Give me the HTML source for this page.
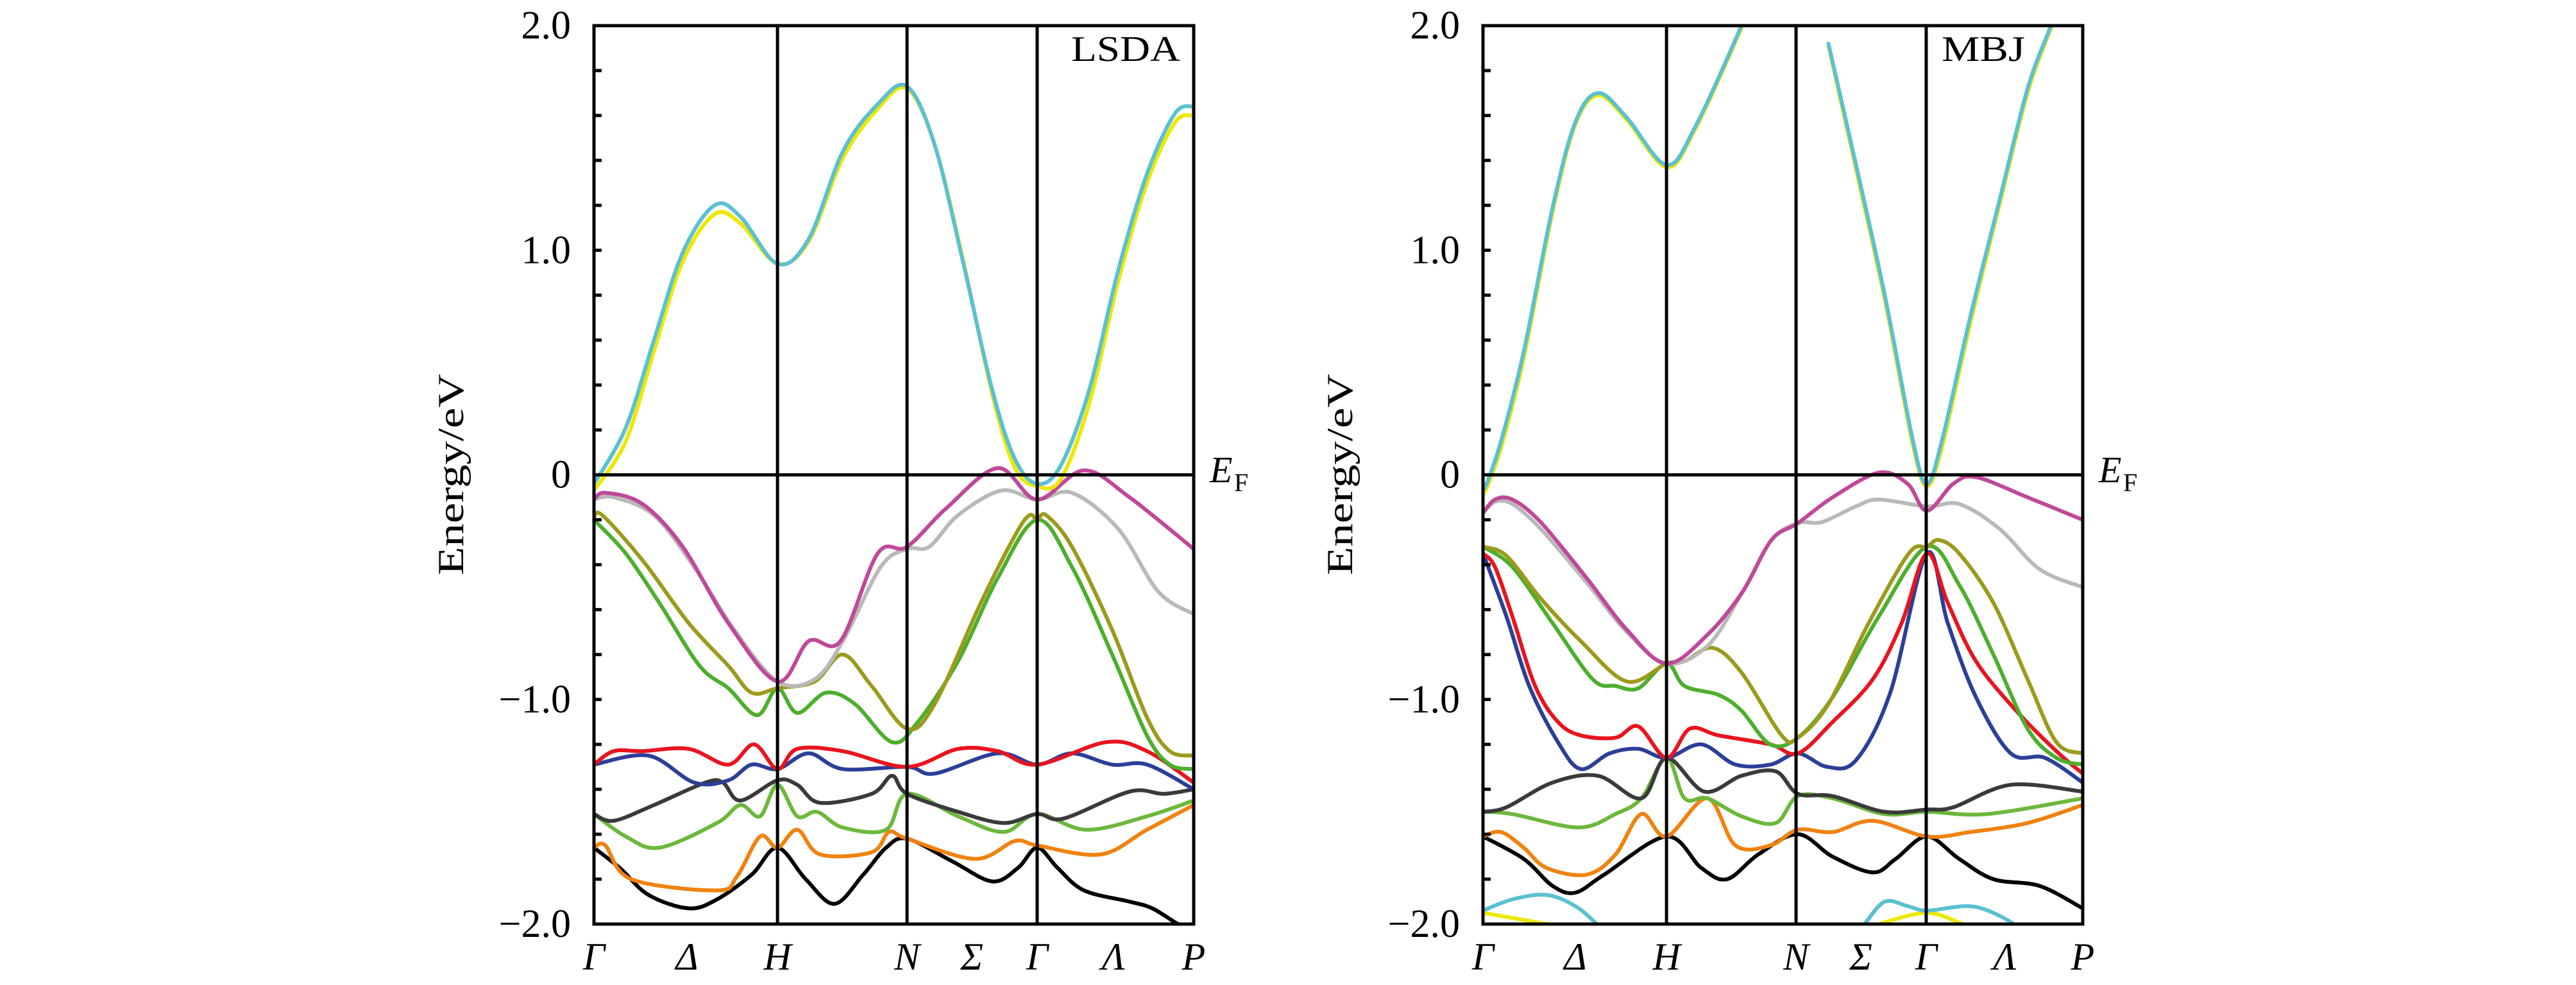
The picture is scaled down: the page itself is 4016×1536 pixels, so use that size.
<!DOCTYPE html>
<html><head><meta charset="utf-8">
<style>
html,body{margin:0;padding:0;background:#fff;}
svg{display:block;}
text{font-family:"Liberation Serif","DejaVu Serif",serif;fill:#000;}
</style></head>
<body>
<svg id="chart" width="4016" height="1536" viewBox="0 0 4016 1536" xmlns="http://www.w3.org/2000/svg"></svg>
<script>
// ---------- data (k in % of path, E in eV) ----------
const kLabels = ["Γ","Δ","H","N","Σ","Γ","Λ","P"];
const kLabelPos = [0,15.5,30.6,52.2,63.0,73.9,86.6,100];
const kLabelPos2 = [0,15.4,30.6,52.2,63.0,73.9,87.0,100];
const kLines = [30.6,52.2,73.9];
const yTickLabels = ["2.0","1.0","0","−1.0","−2.0"];
const yTickValues = [2,1,0,-1,-2];
const yMinorValues = [-1.8,-1.6,-1.4,-1.2,-1.0,-0.8,-0.6,-0.4,-0.2,0.2,0.4,0.6,0.8,1.0,1.2,1.4,1.6,1.8];

// LSDA panel
const l_yellow_k = [0,5.3,10.0,14.8,20.1,24.4,30.6,35.8,41.5,47.3,52.2,56.8,61.6,66.4,70.2,73.9,77.8,82.6,87.4,92.2,96.9,100];
const l_yellow_e = [-0.07,0.15,0.55,0.95,1.16,1.12,0.94,1.04,1.41,1.63,1.72,1.47,0.95,0.36,0.03,-0.05,-0.02,0.32,0.86,1.3,1.57,1.6];
const l_cyan_k = [0,5.3,10.0,14.8,20.1,24.4,30.6,35.8,41.5,47.3,52.2,56.8,61.6,66.4,70.2,73.9,77.8,82.6,87.4,92.2,96.9,100];
const l_cyan_e = [-0.04,0.21,0.6,0.99,1.2,1.15,0.94,1.05,1.44,1.65,1.73,1.47,0.94,0.38,0.07,-0.04,0.04,0.38,0.91,1.34,1.61,1.64];
const l_gray_k = [0,3.3,10.0,16.7,23.4,30.6,36.8,41.5,47.8,52.2,55.9,60.7,67.9,73.9,79.7,87.4,94.1,100];
const l_gray_e = [-0.11,-0.1,-0.18,-0.41,-0.69,-0.92,-0.91,-0.74,-0.41,-0.33,-0.32,-0.18,-0.07,-0.11,-0.08,-0.24,-0.52,-0.62];
const l_magenta_k = [0,1.9,8.1,14.8,22.4,30.6,35.8,41.1,47.3,52.2,58.7,67.3,73.9,81.7,89.3,100];
const l_magenta_e = [-0.11,-0.08,-0.13,-0.32,-0.66,-0.92,-0.74,-0.74,-0.35,-0.32,-0.15,0.03,-0.11,0.02,-0.1,-0.33];
const l_olive_k = [0,1.4,8.1,15.8,22.4,26.3,30.6,36.8,41.5,46.3,52.2,56.8,64.5,70.2,72.6,73.9,75.4,79.7,86.4,92.2,96.0,100];
const l_olive_e = [-0.19,-0.18,-0.38,-0.66,-0.85,-0.97,-0.95,-0.92,-0.8,-0.94,-1.13,-1.02,-0.57,-0.27,-0.18,-0.2,-0.18,-0.32,-0.69,-1.08,-1.23,-1.25];
const l_green_k = [0,5.3,10.9,17.6,22.4,27.2,30.6,33.9,38.7,43.5,49.7,54.0,60.7,67.3,73.9,79.7,86.4,92.2,96.0,100];
const l_green_e = [-0.2,-0.35,-0.57,-0.85,-0.95,-1.07,-0.95,-1.06,-0.97,-1.02,-1.19,-1.1,-0.83,-0.46,-0.2,-0.41,-0.8,-1.16,-1.29,-1.31];
const l_red_k = [0,3.3,8.1,15.8,22.4,26.7,30.6,33.9,41.5,52.2,60.7,67.3,73.9,85.4,92.2,100];
const l_red_e = [-1.29,-1.23,-1.23,-1.22,-1.29,-1.2,-1.31,-1.22,-1.23,-1.3,-1.22,-1.23,-1.29,-1.19,-1.23,-1.37];
const l_blue_k = [0,9.1,16.7,22.4,26.3,30.6,35.8,41.5,52.2,56.8,67.3,73.9,79.7,86.4,92.2,100];
const l_blue_e = [-1.29,-1.25,-1.37,-1.36,-1.29,-1.31,-1.24,-1.31,-1.3,-1.33,-1.24,-1.29,-1.24,-1.29,-1.29,-1.4];
const l_dark_k = [0,3.3,10.0,18.6,21.5,24.4,30.6,33.9,37.7,46.3,49.7,52.2,60.7,68.3,73.9,78.3,89.3,95.0,100];
const l_dark_e = [-1.51,-1.54,-1.47,-1.37,-1.37,-1.45,-1.36,-1.38,-1.46,-1.42,-1.34,-1.42,-1.5,-1.55,-1.51,-1.53,-1.41,-1.42,-1.4];
const l_green2_k = [0,5.3,10.9,20.5,24.4,27.7,30.6,33.9,37.2,41.5,48.7,52.2,60.7,68.3,73.9,82.1,92.2,100];
const l_green2_e = [-1.51,-1.61,-1.66,-1.55,-1.47,-1.52,-1.38,-1.52,-1.5,-1.57,-1.58,-1.42,-1.52,-1.59,-1.51,-1.58,-1.52,-1.45];
const l_orange_k = [0,1.9,6.2,20.5,23.8,27.7,30.6,33.9,37.7,46.3,49.2,52.2,63.5,70.2,73.9,84.5,92.2,100];
const l_orange_e = [-1.66,-1.65,-1.8,-1.85,-1.79,-1.61,-1.66,-1.58,-1.69,-1.68,-1.59,-1.62,-1.71,-1.63,-1.65,-1.69,-1.58,-1.47];
const l_black_k = [0,4.3,9.1,15.8,20.5,26.3,30.6,35.3,40.1,44.9,48.7,52.2,59.7,66.4,70.7,73.9,77.3,81.7,89.3,93.1,97.4,100];
const l_black_e = [-1.66,-1.75,-1.87,-1.93,-1.89,-1.78,-1.66,-1.8,-1.91,-1.78,-1.66,-1.62,-1.72,-1.81,-1.75,-1.66,-1.75,-1.85,-1.9,-1.93,-2.0,-2.03];

// MBJ panel
const m_yellow1_k = [0,0.6,3.0,6.8,11.6,15.4,19.2,24.0,30.6,35.4,43.1,44.0];
const m_yellow1_e = [-0.08,-0.06,0.12,0.52,1.17,1.56,1.69,1.58,1.37,1.54,1.99,2.07];
const m_cyan1_k = [0,0.6,3.0,6.8,11.6,15.4,19.2,24.0,30.6,35.4,43.1,44.0];
const m_cyan1_e = [-0.06,-0.04,0.15,0.55,1.19,1.57,1.7,1.59,1.38,1.55,2.0,2.08];
const m_yellow2_k = [57.6,62.2,67.0,71.7,74.0,76.5,81.3,86.1,90.8,94.7,95.6];
const m_yellow2_e = [1.91,1.36,0.78,0.13,-0.05,0.12,0.68,1.2,1.7,1.99,2.07];
const m_cyan2_k = [57.6,62.2,67.0,71.7,74.0,76.5,81.3,86.1,90.8,94.7,95.6];
const m_cyan2_e = [1.92,1.38,0.8,0.15,-0.04,0.15,0.71,1.22,1.72,2.0,2.08];
const m_cyan3_k = [0,4.9,10.6,15.4,19.0,21.0];
const m_cyan3_e = [-1.94,-1.89,-1.87,-1.92,-2.0,-2.05];
const m_cyan4_k = [62.0,63.6,67.0,70.8,74.0,80.4,84.2,88.5,90.0];
const m_cyan4_e = [-2.05,-2.0,-1.9,-1.92,-1.94,-1.92,-1.94,-2.0,-2.05];
const m_yellow3_k = [0,10.6,15.0];
const m_yellow3_e = [-1.95,-2.0,-2.03];
const m_yellow4_k = [63.0,66.0,74.0,80.0,83.0];
const m_yellow4_e = [-2.03,-2.0,-1.95,-2.0,-2.03];
const m_gray_k = [0,2.0,4.9,9.6,17.3,24.0,30.6,37.5,43.3,48.1,52.5,56.5,62.2,66.0,74.0,79.4,86.1,92.8,100];
const m_gray_e = [-0.17,-0.12,-0.13,-0.24,-0.48,-0.7,-0.84,-0.76,-0.52,-0.29,-0.215,-0.21,-0.14,-0.11,-0.14,-0.13,-0.24,-0.42,-0.5];
const m_magenta_k = [0,2.0,4.9,9.6,17.3,24.0,30.6,37.5,43.3,48.1,52.5,58.3,66.0,70.8,74.0,78.4,82.2,90.8,100];
const m_magenta_e = [-0.17,-0.11,-0.11,-0.21,-0.46,-0.69,-0.84,-0.71,-0.52,-0.29,-0.215,-0.1,0.01,-0.04,-0.16,-0.04,-0.01,-0.1,-0.2];
const m_olive_k = [0,3.9,9.6,16.3,24.0,30.6,33.6,38.3,43.1,49.8,52.5,57.6,64.3,71.0,74.0,76.0,79.4,85.1,90.8,95.6,100];
const m_olive_e = [-0.32,-0.36,-0.55,-0.74,-0.92,-0.84,-0.83,-0.77,-0.88,-1.16,-1.17,-1.02,-0.66,-0.35,-0.32,-0.29,-0.35,-0.57,-0.91,-1.19,-1.24];
const m_green_k = [0,4.9,11.6,18.3,22.1,25.9,30.6,33.6,39.3,43.1,47.9,52.5,58.3,66.0,74.0,79.4,85.1,90.8,95.6,100];
const m_green_e = [-0.32,-0.41,-0.66,-0.91,-0.94,-0.95,-0.84,-0.94,-0.98,-1.05,-1.2,-1.17,-0.99,-0.63,-0.32,-0.49,-0.8,-1.13,-1.26,-1.29];
const m_blue_k = [0,3.9,7.7,12.5,16.3,21.1,25.9,30.6,36.4,42.1,47.9,52.5,57.4,62.2,67.9,74.0,77.5,82.2,88.0,93.7,100];
const m_blue_e = [-0.35,-0.63,-0.94,-1.19,-1.31,-1.24,-1.22,-1.26,-1.2,-1.29,-1.29,-1.24,-1.3,-1.27,-0.97,-0.35,-0.66,-0.99,-1.24,-1.26,-1.37];
const m_red_k = [0,2.0,4.9,8.7,12.5,16.3,22.1,25.9,30.6,34.5,39.3,47.9,52.5,58.3,65.0,69.8,74.0,77.5,82.2,88.9,95.6,100];
const m_red_e = [-0.35,-0.41,-0.63,-0.94,-1.1,-1.16,-1.17,-1.12,-1.26,-1.13,-1.16,-1.2,-1.24,-1.1,-0.91,-0.66,-0.35,-0.57,-0.83,-1.05,-1.23,-1.33];
const m_dark_k = [0,3.9,11.6,19.2,26.4,30.6,36.9,43.1,48.8,52.5,58.3,66.9,74.0,78.4,88.0,100];
const m_dark_e = [-1.5,-1.48,-1.37,-1.34,-1.44,-1.26,-1.41,-1.34,-1.32,-1.42,-1.43,-1.5,-1.49,-1.48,-1.38,-1.41];
const m_green2_k = [0,4.9,15.9,22.1,26.4,30.6,33.6,37.4,43.1,48.8,52.5,58.3,66.9,74.0,84.1,100];
const m_green2_e = [-1.5,-1.51,-1.57,-1.51,-1.44,-1.26,-1.44,-1.44,-1.52,-1.55,-1.43,-1.44,-1.51,-1.5,-1.51,-1.44];
const m_orange_k = [0,3.0,6.8,10.6,17.3,22.1,26.4,30.6,37.4,42.1,47.9,52.5,58.3,65.0,74.0,81.3,90.8,100];
const m_orange_e = [-1.61,-1.59,-1.66,-1.75,-1.78,-1.69,-1.51,-1.61,-1.44,-1.65,-1.65,-1.58,-1.59,-1.54,-1.61,-1.59,-1.55,-1.47];
const m_black_k = [0,6.8,11.6,15.4,20.2,30.6,36.4,40.7,45.9,52.5,58.3,65.0,68.8,74.0,79.4,85.1,92.8,100];
const m_black_e = [-1.61,-1.71,-1.83,-1.86,-1.78,-1.61,-1.75,-1.8,-1.69,-1.6,-1.7,-1.77,-1.71,-1.61,-1.71,-1.8,-1.83,-1.93];

// ---------- drawing ----------
const NS = "http://www.w3.org/2000/svg";
const svg = document.getElementById("chart");
const TOP = 40, BOT = 1441, YMAX = 2, YMIN = -2;
function yScale(e){ return TOP + (YMAX - e) / (YMAX - YMIN) * (BOT - TOP); }
function mk(tag, attrs, parent){
  const el = document.createElementNS(NS, tag);
  for (const a in attrs) el.setAttribute(a, attrs[a]);
  (parent || svg).appendChild(el);
  return el;
}
function smoothPath(pts){
  let d = "M" + pts[0][0].toFixed(1) + "," + pts[0][1].toFixed(1);
  for (let i = 0; i < pts.length - 1; i++){
    const p0 = pts[i-1] || pts[i], p1 = pts[i], p2 = pts[i+1], p3 = pts[i+2] || p2;
    const c1x = p1[0] + (p2[0]-p0[0])/6, c1y = p1[1] + (p2[1]-p0[1])/6;
    const c2x = p2[0] - (p3[0]-p1[0])/6, c2y = p2[1] - (p3[1]-p1[1])/6;
    d += " C" + c1x.toFixed(1)+","+c1y.toFixed(1)+" "+c2x.toFixed(1)+","+c2y.toFixed(1)+" "+p2[0].toFixed(1)+","+p2[1].toFixed(1);
  }
  return d;
}

function drawPanel(id, left, right, title, titleX, titleW, bands, labelPos){
  const W = right - left;
  function xScale(k){ return left + k / 100 * W; }
  const g = mk("g", {});
  
  
  const clipId = id + "-clip";
  const cp = mk("clipPath", {id: clipId}, g);
  mk("rect", {x: left, y: TOP, width: W, height: BOT - TOP}, cp);

  const bg = mk("g", {"clip-path": "url(#" + clipId + ")"}, g);
  
  
  bands.forEach(b => {
    const pts = b.k.map((k, i) => [xScale(k), yScale(b.e[i])]);
    const p = mk("path", {d: smoothPath(pts), fill: "none", stroke: b.color, "stroke-width": 6, "stroke-linejoin": "round", "stroke-linecap": "round"}, bg);
    
    
  });

  kLines.forEach(k => {
    const l = mk("line", {x1: xScale(k), x2: xScale(k), y1: TOP, y2: BOT, stroke: "#000", "stroke-width": 5}, g);
    
    
  });
  const ef = mk("line", {x1: left, x2: right, y1: yScale(0), y2: yScale(0), stroke: "#000", "stroke-width": 5}, g);
  
  
  const fr = mk("rect", {x: left, y: TOP, width: W, height: BOT - TOP, fill: "none", stroke: "#000", "stroke-width": 5}, g);
  
  
  yMinorValues.forEach(v => {
    const t = mk("line", {x1: left, x2: left + 12, y1: yScale(v), y2: yScale(v), stroke: "#000", "stroke-width": 5}, g);
    
    
  });
  yTickValues.forEach((v, i) => {
    const t = mk("text", {x: left - 36, y: yScale(v) + 20, "text-anchor": "end", "font-size": 62}, g);
    t.textContent = yTickLabels[i];
    
    
  });
  const yt = mk("text", {x: 0, y: 0, "text-anchor": "middle", "font-size": 57, textLength: 314, lengthAdjust: "spacingAndGlyphs", transform: "translate(" + (left - 204) + "," + 740 + ") rotate(-90)"}, g);
  yt.textContent = "Energy/eV";
  
  
  kLabels.forEach((lab, i) => {
    const t = mk("text", {x: xScale(labelPos[i]), y: 1512, "text-anchor": "middle", "font-size": 60, "font-style": "italic"}, g);
    t.textContent = lab;
    
    
  });
  const efl = mk("text", {x: right + 25, y: 752, "font-size": 58, "font-style": "italic"}, g);
  efl.textContent = "E";
  
  
  const efs = mk("text", {x: right + 63, y: 766, "font-size": 40}, g);
  efs.textContent = "F";
  
  
  const tt = mk("text", {x: titleX, y: 95, "font-size": 56, textLength: titleW, lengthAdjust: "spacingAndGlyphs"}, g);
  tt.textContent = title;
  
  
}

const C = {cyan:"#5bc0d2", yellow:"#ece800", magenta:"#c0489a", gray:"#b9b9b9", olive:"#9c9a1c", green:"#4caf2c", red:"#e8141e", blue:"#2b3f98", dark:"#3a3a3a", green2:"#6cb83c", orange:"#f0820e", black:"#000000"};

drawPanel("lsda", 926, 1861, "LSDA", 1670, 170, [
  {name:"black", k:l_black_k, e:l_black_e, color:C.black},
  {name:"orange", k:l_orange_k, e:l_orange_e, color:C.orange},
  {name:"green-lower", k:l_green2_k, e:l_green2_e, color:C.green2},
  {name:"dark-gray", k:l_dark_k, e:l_dark_e, color:C.dark},
  {name:"blue", k:l_blue_k, e:l_blue_e, color:C.blue},
  {name:"red", k:l_red_k, e:l_red_e, color:C.red},
  {name:"green", k:l_green_k, e:l_green_e, color:C.green},
  {name:"olive", k:l_olive_k, e:l_olive_e, color:C.olive},
  {name:"gray", k:l_gray_k, e:l_gray_e, color:C.gray},
  {name:"magenta", k:l_magenta_k, e:l_magenta_e, color:C.magenta},
  {name:"yellow", k:l_yellow_k, e:l_yellow_e, color:C.yellow},
  {name:"cyan", k:l_cyan_k, e:l_cyan_e, color:C.cyan}
], kLabelPos);

drawPanel("mbj", 2312, 3247, "MBJ", 3027, 130, [
  {name:"black", k:m_black_k, e:m_black_e, color:C.black},
  {name:"orange", k:m_orange_k, e:m_orange_e, color:C.orange},
  {name:"green-lower", k:m_green2_k, e:m_green2_e, color:C.green2},
  {name:"dark-gray", k:m_dark_k, e:m_dark_e, color:C.dark},
  {name:"blue", k:m_blue_k, e:m_blue_e, color:C.blue},
  {name:"red", k:m_red_k, e:m_red_e, color:C.red},
  {name:"green", k:m_green_k, e:m_green_e, color:C.green},
  {name:"olive", k:m_olive_k, e:m_olive_e, color:C.olive},
  {name:"gray", k:m_gray_k, e:m_gray_e, color:C.gray},
  {name:"magenta", k:m_magenta_k, e:m_magenta_e, color:C.magenta},
  {name:"yellow-low-1", k:m_yellow3_k, e:m_yellow3_e, color:C.yellow},
  {name:"yellow-low-2", k:m_yellow4_k, e:m_yellow4_e, color:C.yellow},
  {name:"cyan-low-1", k:m_cyan3_k, e:m_cyan3_e, color:C.cyan},
  {name:"cyan-low-2", k:m_cyan4_k, e:m_cyan4_e, color:C.cyan},
  {name:"yellow-1", k:m_yellow1_k, e:m_yellow1_e, color:C.yellow},
  {name:"yellow-2", k:m_yellow2_k, e:m_yellow2_e, color:C.yellow},
  {name:"cyan-1", k:m_cyan1_k, e:m_cyan1_e, color:C.cyan},
  {name:"cyan-2", k:m_cyan2_k, e:m_cyan2_e, color:C.cyan}
], kLabelPos2);
</script>
</body></html>
